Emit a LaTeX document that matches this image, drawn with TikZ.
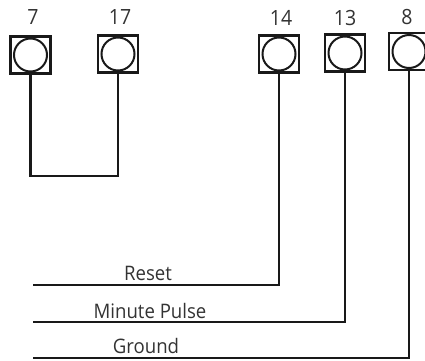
\documentclass[tikz,border=0pt]{standalone}
\usepackage{fontspec}
\setmainfont[FakeStretch=0.93]{Open Sans}
\usetikzlibrary{positioning}
\tikzset{
  pinbox/.style={draw=black!90, line width=2.4pt, minimum width=40pt, minimum height=37pt, inner sep=0pt},
  pinring/.style={draw=black!90, circle, line width=2pt, minimum size=33pt, inner sep=0pt},
  wire/.style={draw=black!90, line width=2.2pt, line join=miter},
  pinlabel/.style={font=\fontsize{21}{23}\selectfont, text=black!80, inner sep=0pt},
  wirelabel/.style={font=\fontsize{20}{22}\selectfont, text=black!80, inner sep=0pt}
}
\begin{document}
\begin{tikzpicture}[x=1pt, y=-1pt]
  \useasboundingbox (0,0) rectangle (425,360);
  %% pins
  \node[pinbox] (box7) at (30.5,55) {};
  \node[pinbox] (box17) at (118,54) {};
  \node[pinbox] (box14) at (279,54) {};
  \node[pinbox] (box13) at (345,53) {};
  \node[pinbox] (box8) at (409,51.5) {};
  \node[pinring] (ring7) at (box7) {};
  \node[pinring] (ring17) at (box17) {};
  \node[pinring] (ring14) at (box14) {};
  \node[pinring] (ring13) at (box13) {};
  \node[pinring] (ring8) at (box8) {};
  %% numbers
  \node[pinlabel] (num7) at (33,17) {7};
  \node[pinlabel] (num17) at (120,17) {17};
  \node[pinlabel] (num14) at (281,18) {14};
  \node[pinlabel] (num13) at (345,18) {13};
  \node[pinlabel] (num8) at (407,17) {8};
  %% wire ends
  \coordinate (endreset) at (33,285);
  \coordinate (endminute) at (33,322);
  \coordinate (endground) at (33,358);
  %% wires
  \draw[wire] (box7.south) |- (118,176) -- (box17.south);
  \draw[wire] (box14.south) |- (endreset);
  \draw[wire] (box13.south) |- (endminute);
  \draw[wire] (box8.south) |- (endground);
  %% names
  \node[wirelabel] (reset) at (148,273) {Reset};
  \node[wirelabel] (minute) at (150,311) {Minute Pulse};
  \node[wirelabel] (ground) at (146,346) {Ground};
\end{tikzpicture}
\end{document}
